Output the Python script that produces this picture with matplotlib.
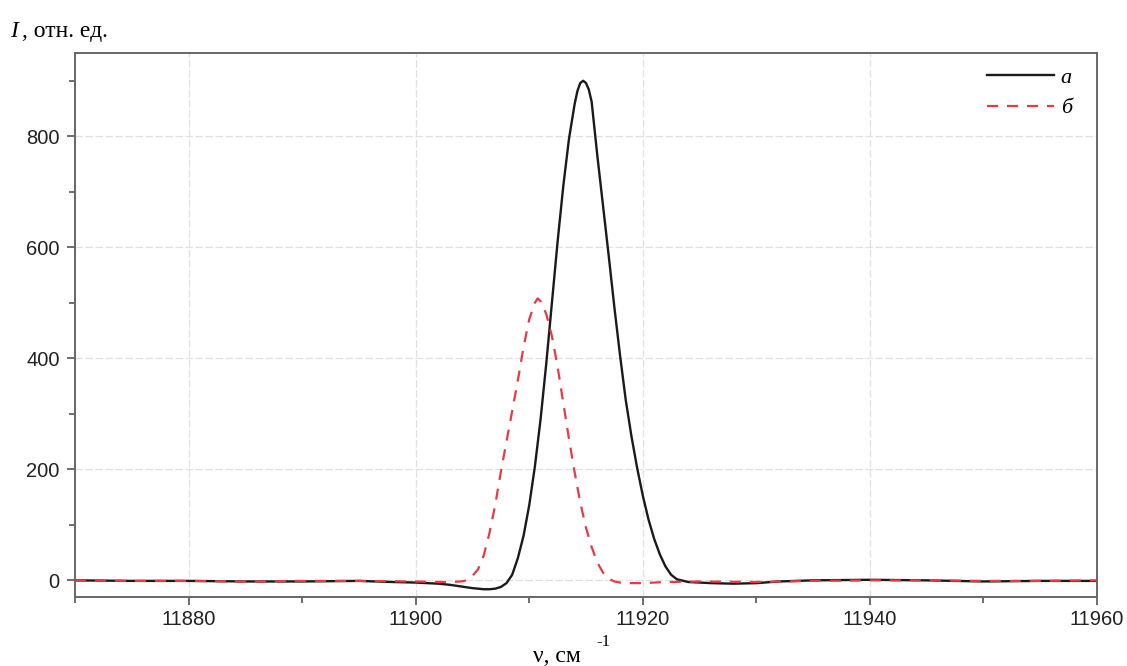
import matplotlib.pyplot as plt
from matplotlib.ticker import MultipleLocator

# кривая а (сплошная)
nu_a = [11870, 11875, 11880, 11885, 11890, 11895, 11898, 11900, 11902, 11903,
        11904, 11905, 11906, 11906.5, 11907, 11907.5, 11908, 11908.5, 11909, 11909.5,
        11910, 11910.5, 11911, 11911.5, 11912, 11912.5, 11913, 11913.5, 11914, 11914.25,
        11914.5, 11914.75, 11915, 11915.25, 11915.5, 11916, 11916.5, 11917, 11917.5, 11918,
        11918.5, 11919, 11919.5, 11920, 11920.5, 11921, 11921.5, 11922, 11922.5, 11923,
        11924, 11926, 11928, 11930, 11932, 11935, 11940, 11945, 11950, 11955, 11960]
I_a = [0, -1, -1, -2, -2, -1, -3, -4, -6, -8,
       -11, -14, -16, -16, -15, -12, -5, 10, 40, 80,
       135, 205, 290, 390, 500, 610, 710, 795, 858, 882,
       896, 900, 896, 884, 862, 765, 675, 585, 492, 405,
       325, 260, 203, 153, 110, 75, 47, 25, 10, 2,
       -3, -5, -6, -5, -2, 0, 1, 0, -2, -1, -1]

# кривая б (штриховая)
nu_b = [11870, 11875, 11880, 11885, 11890, 11895, 11900, 11902, 11903, 11904,
        11904.5, 11905, 11905.5, 11906, 11906.5, 11907, 11907.5, 11908, 11908.5, 11909,
        11909.5, 11910, 11910.5, 11910.75, 11911, 11911.5, 11912, 11912.5, 11913, 11913.5,
        11914, 11914.5, 11915, 11915.5, 11916, 11916.5, 11917, 11917.5, 11918, 11919,
        11920, 11922, 11925, 11930, 11935, 11940, 11945, 11950, 11955, 11960]
I_b = [0, -1, -1, -2, -1, -1, -2, -3, -3, -2,
       0, 8, 20, 45, 85, 135, 195, 250, 305, 360,
       420, 470, 500, 508, 503, 480, 440, 385, 320, 255,
       195, 140, 95, 60, 32, 14, 3, -2, -4, -5,
       -5, -3, -2, -3, -1, 0, 0, -1, -1, 0]

x_ticks = [11880, 11900, 11920, 11940, 11960]
y_ticks = [0, 200, 400, 600, 800]

fig = plt.figure(figsize=(11.27, 6.66), dpi=100)
ax = fig.add_axes([0.0665, 0.1036, 0.9069, 0.8168])

ax.plot(nu_a, I_a, color="#1a1a1a", linewidth=1.7, label="а")
ax.plot(nu_b, I_b, color="#e63a44", linewidth=1.6, linestyle=(0, (5, 4)), label="б")

ax.set_xlim(11870, 11960)
ax.set_ylim(-30, 950)
ax.set_xticks(x_ticks)
ax.set_yticks(y_ticks)
ax.xaxis.set_minor_locator(MultipleLocator(10))
ax.yaxis.set_minor_locator(MultipleLocator(100))

ax.grid(True, which="major", color="#e0e0e0", linewidth=0.9, linestyle=(0, (6, 2)))
for s in ax.spines.values():
    s.set_color("#666666")
    s.set_linewidth(1.4)

ax.tick_params(which="both", direction="out", color="#555555", width=1.2,
               top=False, right=False)
ax.tick_params(which="major", length=6, labelsize=14.5, labelcolor="#222222")
ax.tick_params(axis="y", which="major", pad=5)
ax.tick_params(which="minor", length=4)
for lab in ax.get_xticklabels() + ax.get_yticklabels():
    lab.set_family("Liberation Sans")

leg = ax.legend(loc="upper right", bbox_to_anchor=(0.984, 0.99), frameon=False,
                handlelength=3.0, handletextpad=0.3, borderaxespad=0.0,
                labelspacing=0.45,
                prop={"family": "Liberation Serif", "style": "italic", "size": 16})

fig.text(0.009, 0.952, "I", family="Liberation Serif", style="italic",
         fontsize=17, va="center")
fig.text(0.0195, 0.952, ", отн. ед.", family="Liberation Serif",
         fontsize=17, va="center")

fig.text(0.473, 0.006, "ν, см", family="Liberation Serif", fontsize=17, va="baseline")
fig.text(0.529, 0.03, "-1", family="Liberation Serif", fontsize=12, va="baseline")

fig.savefig("out.png", dpi=100)
